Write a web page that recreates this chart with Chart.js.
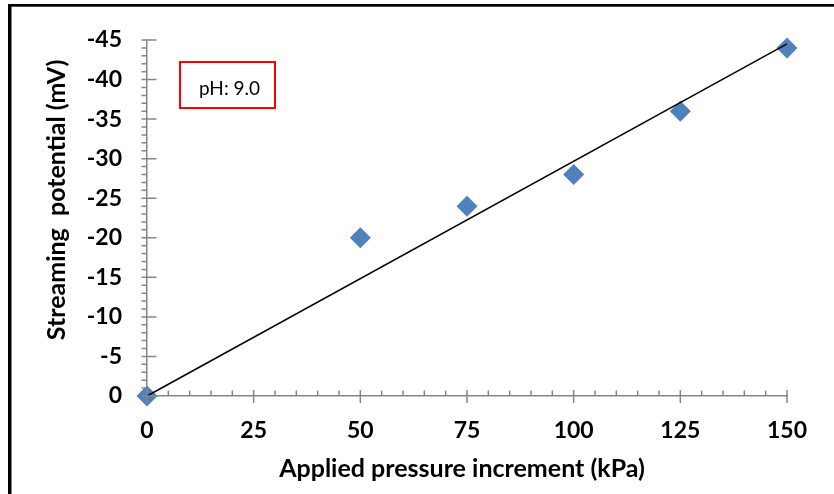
<!DOCTYPE html>
<html>
<head>
<meta charset="utf-8">
<script src="https://cdn.jsdelivr.net/npm/chart.js@4.4.1/dist/chart.umd.min.js"></script>
<style>
  html, body { margin: 0; padding: 0; background: #fff; }
  #wrap { width: 834px; height: 494px; position: relative; }
</style>
</head>
<body>
<div id="wrap"><canvas id="c" width="834" height="494"></canvas></div>
<script>
// ---- data ----
const pressureKPa = [0, 50, 75, 100, 125, 150];
const streamingMV = [0, -20, -24, -28, -36, -44];
const trendX = [0, 150];
const trendY = [0, -44.5];
const xTickValues = [0, 25, 50, 75, 100, 125, 150];
const yTickLabels = ['-45', '-40', '-35', '-30', '-25', '-20', '-15', '-10', '-5', '0'];
const xTitle = 'Applied pressure increment (kPa)';
const yTitle = 'Streaming  potential (mV)';
const noteText = 'pH: 9.0';

const AXIS = '#868686';
const FONT = 'Lato, "Open Sans", sans-serif';

const decor = {
  id: 'decor',
  beforeDraw(chart) {
    const ctx = chart.ctx;
    ctx.save();
    ctx.fillStyle = '#fff';
    ctx.fillRect(0, 0, chart.width, chart.height);
    ctx.fillStyle = '#000';
    ctx.fillRect(8, 4, 826, 2.7);
    ctx.fillRect(8, 4, 3.5, 490);
    ctx.restore();
  },
  afterDraw(chart) {
    const ctx = chart.ctx;
    const xs = chart.scales.x, ys = chart.scales.y;
    const ax = chart.chartArea.left, ay = chart.chartArea.bottom;
    ctx.save();
    ctx.strokeStyle = AXIS;
    ctx.lineWidth = 1.5;
    ctx.beginPath();
    // y ticks: minor every 1, major every 5
    for (let v = 0; v >= -45; v--) {
      const py = ys.getPixelForValue(v);
      if (v % 5 === 0) { ctx.moveTo(ax - 5.5, py); ctx.lineTo(ax + 9.5, py); }
      else { ctx.moveTo(ax - 5.5, py); ctx.lineTo(ax, py); }
    }
    // x ticks: minor every 5, major every 25
    for (let v = 0; v <= 150; v += 5) {
      const px = xs.getPixelForValue(v);
      if (v % 25 === 0) { ctx.moveTo(px, ay - 6); ctx.lineTo(px, ay + 7); }
      else { ctx.moveTo(px, ay - 5.5); ctx.lineTo(px, ay); }
    }
    ctx.stroke();

    // axis titles
    ctx.fillStyle = '#000';
    ctx.font = 'bold 25px ' + FONT;
    ctx.textAlign = 'center';
    ctx.textBaseline = 'alphabetic';
    ctx.fillText(xTitle, 462, 477);
    ctx.save();
    ctx.translate(65, 200);
    ctx.rotate(-Math.PI / 2);
    ctx.fillText(yTitle, 0, 0);
    ctx.restore();

    // note box
    ctx.strokeStyle = '#ff0000';
    ctx.lineWidth = 2;
    ctx.strokeRect(180, 62, 95, 46);
    ctx.fillStyle = '#000';
    ctx.font = '19px ' + FONT;
    ctx.textAlign = 'left';
    ctx.fillText(noteText, 199, 95);
    ctx.restore();
  }
};

function build() {
  new Chart(document.getElementById('c'), {
    type: 'scatter',
    data: {
      datasets: [
        {
          label: 'Trend',
          data: trendX.map((x, i) => ({ x: x, y: trendY[i] })),
          showLine: true,
          borderColor: '#000',
          borderWidth: 1.5,
          pointRadius: 0,
          clip: false
        },
        {
          label: 'Streaming potential',
          data: pressureKPa.map((x, i) => ({ x: x, y: streamingMV[i] })),
          pointStyle: 'rectRot',
          pointRadius: 10.5,
          pointHoverRadius: 10.5,
          backgroundColor: '#4F81BD',
          borderColor: '#4F81BD',
          borderWidth: 0,
          clip: false
        }
      ]
    },
    options: {
      responsive: false,
      animation: false,
      events: [],
      layout: { padding: { left: 0, top: 40, right: 47, bottom: 0 } },
      plugins: { legend: { display: false }, tooltip: { enabled: false } },
      scales: {
        x: {
          type: 'linear',
          min: 0, max: 150,
          afterFit(s) { s.height = 98; },
          afterBuildTicks(s) { s.ticks = xTickValues.map(v => ({ value: v })); },
          grid: { display: false, drawTicks: false },
          border: { display: true, color: AXIS, width: 1.5 },
          ticks: {
            padding: 21,
            color: '#000',
            font: { family: FONT, size: 23, weight: 'bold' },
            maxRotation: 0,
            autoSkip: false,
            callback: v => String(v)
          }
        },
        y: {
          type: 'linear',
          min: -45, max: 0,
          reverse: true,
          afterFit(s) { s.width = 147; },
          afterBuildTicks(s) { s.ticks = yTickLabels.map(t => ({ value: Number(t) })); },
          grid: { display: false, drawTicks: false },
          border: { display: true, color: AXIS, width: 1.5 },
          ticks: {
            padding: 25,
            color: '#000',
            font: { family: FONT, size: 23, weight: 'bold' },
            autoSkip: false,
            callback: (v) => yTickLabels.find(t => Number(t) === v) || String(v)
          }
        }
      }
    },
    plugins: [decor]
  });
}
if (document.fonts && document.fonts.load) {
  Promise.all([document.fonts.load('bold 23px Lato'), document.fonts.load('19px Lato')]).then(build, build);
} else { build(); }
</script>
</body>
</html>
